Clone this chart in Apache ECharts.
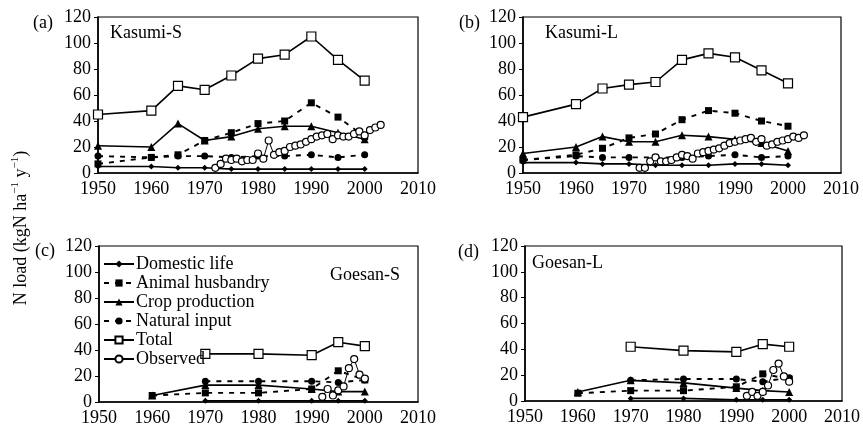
<!DOCTYPE html>
<html>
<head>
<meta charset="utf-8">
<script src="https://cdn.jsdelivr.net/npm/echarts@6/dist/echarts.min.js"></script>
<style>
  html, body { margin: 0; padding: 0; background: #fff; }
  #chart { width: 863px; height: 427px; }
</style>
</head>
<body>
<div id="chart"></div>
<script>
// years
const modelYearsK = [1950, 1960, 1965, 1970, 1975, 1980, 1985, 1990, 1995, 2000];
const obsYearsK = [1972, 1973, 1974, 1975, 1976, 1977, 1978, 1979, 1980, 1981, 1982, 1983, 1984, 1985, 1986, 1987,
  1988, 1989, 1990, 1991, 1992, 1993, 1994, 1995, 1996, 1997, 1998, 1999, 2000, 2001, 2002, 2003];
const modelYearsG = [1960, 1970, 1980, 1990, 1995, 2000];
const obsYearsG = [1992, 1993, 1994, 1995, 1996, 1997, 1998, 1999, 2000];

// (a) Kasumi-S
const domesticA = [5, 5, 4, 4, 3, 3, 3, 3, 3, 3];
const animalA = [7, 12, 14, 25, 31, 38, 40, 54, 43, 28];
const cropA = [21, 20, 38, 25, 28, 34, 36, 36, 31, 26];
const naturalA = [13, 12, 13, 13, 12, 13, 13, 14, 12, 14];
const totalA = [45, 48, 67, 64, 75, 88, 91, 105, 87, 71];
const observedA = [4, 7, 11, 10, 11, 9, 10, 10, 15, 11, 25, 14, 16, 17, 20, 21,
  22, 24, 26, 28, 29, 30, 26, 29, 28, 28, 30, 32, 29, 33, 35, 37];

// (b) Kasumi-L
const domesticB = [8, 8, 7, 7, 6, 6, 6, 7, 7, 6];
const animalB = [10, 14, 19, 27, 30, 41, 48, 46, 40, 36];
const cropB = [15, 20, 28, 24, 24, 29, 28, 26, 23, 17];
const naturalB = [10, 13, 12, 12, 12, 12, 13, 14, 12, 13];
const totalB = [43, 53, 65, 68, 70, 87, 92, 89, 79, 69];
const observedB = [4, 4, 9, 12, 9, 9, 10, 12, 14, 13, 11, 15, 16, 17, 18, 19,
  21, 23, 24, 25, 26, 27, 24, 26, 21, 22, 24, 25, 26, 28, 27, 29];

// (c) Goesan-S
const domesticC = [null, 1, 1, 1, 1, 1];
const animalC = [5, 7, 7, 10, 24, 17];
const cropC = [5, 13, 13, 10, 8, 8];
const naturalC = [null, 16, 16, 16, 15, 17];
const totalC = [null, 37, 37, 36, 46, 43];
const observedC = [4, 10, 5, 9, 12, 26, 33, 21, 18];

// (d) Goesan-L
const domesticD = [null, 2, 2, 1, 1, 1];
const animalD = [6, 8, 8, 11, 21, 17];
const cropD = [7, 16, 14, 10, 8, 7];
const naturalD = [null, 16, 17, 17, 15, 18];
const totalD = [null, 42, 39, 38, 44, 42];
const observedD = [4, 7, 4, 7, 12, 24, 29, 19, 15];

const names = ['Domestic life', 'Animal husbandry', 'Crop production', 'Natural input', 'Total', 'Observed'];
const serif = 'Liberation Serif';

function pairs(xs, ys) {
  let out = [];
  for (let i = 0; i < xs.length; i++) {
    if (ys[i] !== null) out.push([xs[i], ys[i]]);
  }
  return out;
}

function look(name) {
  let dashed = name === 'Animal husbandry' || name === 'Natural input';
  let open = name === 'Total' || name === 'Observed';
  let sym = {
    'Domestic life': ['diamond', 6],
    'Animal husbandry': ['rect', 7],
    'Crop production': ['triangle', 8],
    'Natural input': ['circle', 7],
    'Total': ['rect', 9],
    'Observed': ['circle', 7]
  }[name];
  return {
    symbol: sym[0],
    symbolSize: sym[1],
    lineStyle: {color: '#000', width: name === 'Observed' ? 1 : (dashed ? 1.9 : 1.6), type: dashed ? [5, 6] : 'solid'},
    itemStyle: {color: open ? '#fff' : '#000', borderColor: '#000', borderWidth: open ? 1.2 : 0}
  };
}

let series = [];
function addPanel(idx, mYears, oYears, arrs) {
  names.forEach((n, k) => {
    let xs = n === 'Observed' ? oYears : mYears;
    series.push(Object.assign({
      name: n,
      type: 'line',
      xAxisIndex: idx,
      yAxisIndex: idx,
      data: pairs(xs, arrs[k]),
      showAllSymbol: true,
      animation: false,
      z: n === 'Observed' ? 5 : 3
    }, look(n)));
  });
}
addPanel(0, modelYearsK, obsYearsK, [domesticA, animalA, cropA, naturalA, totalA, observedA]);
addPanel(1, modelYearsK, obsYearsK, [domesticB, animalB, cropB, naturalB, totalB, observedB]);
addPanel(2, modelYearsG, obsYearsG, [domesticC, animalC, cropC, naturalC, totalC, observedC]);
addPanel(3, modelYearsG, obsYearsG, [domesticD, animalD, cropD, naturalD, totalD, observedD]);

const grids = [
  {left: 98, top: 17, width: 320, height: 156},
  {left: 523, top: 17, width: 318, height: 156},
  {left: 99, top: 246, width: 319, height: 156},
  {left: 525, top: 246, width: 318, height: 155}
].map(g => Object.assign({show: true, borderColor: '#000', borderWidth: 1.2, containLabel: false}, g));

const xAxes = grids.map((g, i) => ({
  type: 'value', gridIndex: i, min: 1950, max: 2010, interval: 10,
  axisLine: {lineStyle: {color: '#000', width: 1.6}},
  axisTick: {show: false},
  splitLine: {show: false},
  axisLabel: {color: '#000', fontFamily: serif, fontSize: 18, margin: 7, formatter: v => String(v)}
}));
const yAxes = grids.map((g, i) => ({
  type: 'value', gridIndex: i, min: 0, max: 120, interval: 20,
  axisLine: {show: true, lineStyle: {color: '#000', width: 1.6}},
  axisTick: {show: true, length: 4, lineStyle: {color: '#000'}},
  splitLine: {show: false},
  axisLabel: {color: '#000', fontFamily: serif, fontSize: 18, margin: 7}
}));

function label(text, left, top) {
  return {text: text, left: left, top: top, padding: 0,
    textStyle: {fontFamily: serif, fontSize: 18, fontWeight: 'normal', color: '#000'}};
}

let chartDom = document.getElementById('chart');
let myChart = echarts.init(chartDom);
let option = {
  backgroundColor: '#fff',
  animation: false,
  title: [
    label('(a)', 33, 14), label('Kasumi-S', 110, 24),
    label('(b)', 459, 14), label('Kasumi-L', 545, 24),
    label('(c)', 35, 242), label('Goesan-S', 330, 266),
    label('(d)', 458, 243), label('Goesan-L', 532, 254)
  ],
  legend: {
    data: names,
    orient: 'vertical',
    left: 103,
    top: 255,
    padding: 0,
    itemWidth: 30,
    itemHeight: 9,
    itemGap: 1,
    selectedMode: false,
    textStyle: {fontFamily: serif, fontSize: 18, lineHeight: 17, color: '#000', padding: [0, 0, 0, -3]}
  },
  graphic: [{
    type: 'text',
    x: 20,
    y: 228,
    rotation: Math.PI / 2,
    style: {
      text: '{a|N load (kgN ha}{s|−1}{a| y}{s|−1}{a|)}',
      align: 'center',
      verticalAlign: 'middle',
      rich: {
        a: {fontFamily: serif, fontSize: 18, color: '#000', lineHeight: 20, verticalAlign: 'bottom'},
        s: {fontFamily: serif, fontSize: 11, color: '#000', lineHeight: 20, verticalAlign: 'top'}
      }
    }
  }],
  grid: grids,
  xAxis: xAxes,
  yAxis: yAxes,
  series: series
};
option && myChart.setOption(option);
</script>
</body>
</html>
